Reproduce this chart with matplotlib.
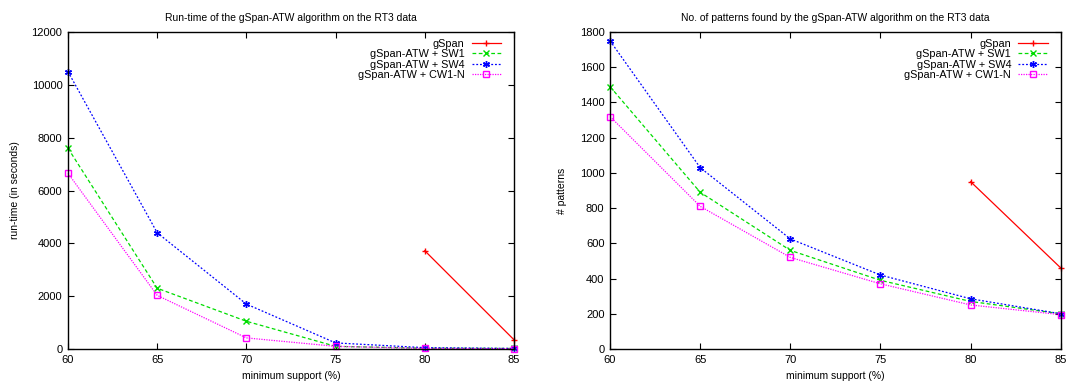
import matplotlib
matplotlib.use("Agg")
import matplotlib.pyplot as plt

support = [60, 65, 70, 75, 80, 85]
gspan_x = [80, 85]

labels = ["gSpan", "gSpan-ATW + SW1", "gSpan-ATW + SW4", "gSpan-ATW + CW1-N"]

rt_gspan = [3720, 350]
rt_sw1 = [7600, 2300, 1050, 100, 30, 20]
rt_sw4 = [10500, 4400, 1700, 230, 50, 20]
rt_cw1n = [6650, 2030, 420, 100, 20, 10]

pt_gspan = [950, 460]
pt_sw1 = [1490, 890, 560, 390, 270, 200]
pt_sw4 = [1750, 1030, 625, 420, 285, 200]
pt_cw1n = [1320, 810, 520, 370, 250, 195]

plt.rcParams['font.family'] = ['Liberation Sans', 'DejaVu Sans']
fs = 7.5
tfs = 8

fig = plt.figure(figsize=(10.88, 3.83), dpi=100)
ax1 = fig.add_axes([0.0625, 0.0888, 0.4099, 0.8276])
ax2 = fig.add_axes([0.5607, 0.0888, 0.4143, 0.8276])

styles = [
    dict(color='#ff0000', linestyle='-', marker='+', markersize=5, lw=0.9),
    dict(color='#00dd00', linestyle=(0, (3, 2)), marker='x', markersize=4.5, lw=0.9),
    dict(color='#0000ff', linestyle=(0, (1.5, 1.5)), marker=(6, 2, 0), markersize=5, lw=0.9),
    dict(color='#ff00ff', linestyle=(0, (1, 1)), marker='s', markersize=4.5,
         markerfacecolor='none', lw=0.9),
]

def draw(ax, series, ymax, ystep, title, ylabel, ylpad):
    xs = [gspan_x, support, support, support]
    for x, y, lab, st in zip(xs, series, labels, styles):
        ax.plot(x, y, label=lab, clip_on=False, **st)
    ax.set_xlim(60, 85)
    ax.set_ylim(0, ymax)
    ax.set_xticks(support)
    ax.set_yticks(range(0, ymax + 1, ystep))
    ax.tick_params(direction='in', top=True, right=True, labelsize=tfs, length=4, width=0.8,
                   pad=4)
    for s in ax.spines.values():
        s.set_linewidth(1.0)
    ax.set_title(title, fontsize=fs, pad=8)
    ax.set_xlabel('minimum support (%)', fontsize=fs, labelpad=5)
    ax.set_ylabel(ylabel, fontsize=fs, labelpad=ylpad)
    ax.legend(loc='upper right', frameon=False, fontsize=fs + 0.3, markerfirst=False,
              handlelength=2.7, labelspacing=0.05, borderaxespad=0.3, handletextpad=0.65,
              borderpad=0.3, bbox_to_anchor=(0.985, 1.0))

draw(ax1, [rt_gspan, rt_sw1, rt_sw4, rt_cw1n], 12000, 2000,
     'Run-time of the gSpan-ATW algorithm on the RT3 data', 'run-time (in seconds)', 8)
draw(ax2, [pt_gspan, pt_sw1, pt_sw4, pt_cw1n], 1800, 200,
     'No. of patterns found by the gSpan-ATW algorithm on the RT3 data', '# patterns', 9)

fig.savefig('out.png', dpi=100)
